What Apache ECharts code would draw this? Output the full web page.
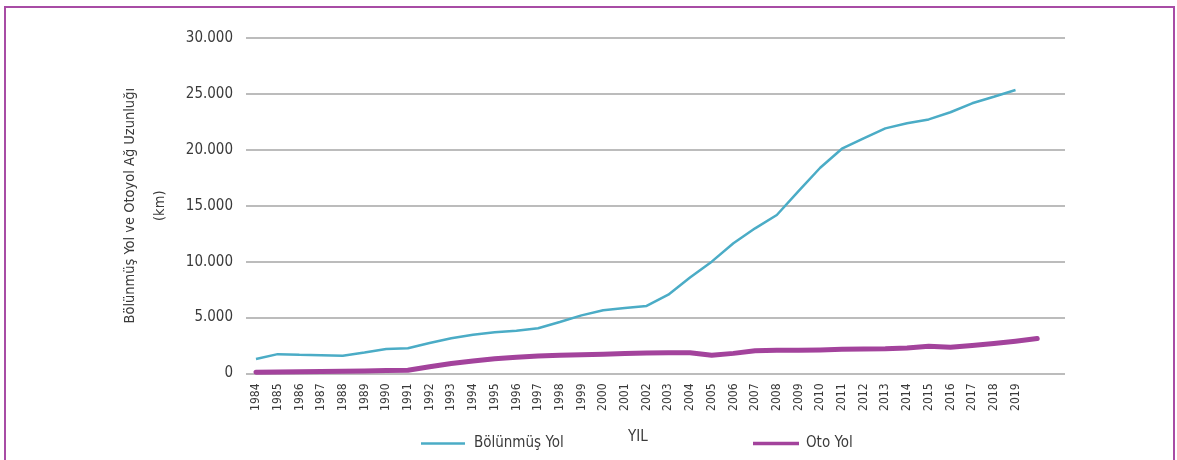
<!DOCTYPE html>
<html>
<head>
<meta charset="utf-8">
<script src="https://cdn.jsdelivr.net/npm/echarts@6/dist/echarts.min.js"></script>
<style>
html,body{margin:0;padding:0;background:#fff;}
#chart{width:1177px;height:460px;}
</style>
</head>
<body>
<div id="chart"></div>
<script>
// ---- data ----
var yearsBolunmus = [1984,1985,1986,1987,1988,1989,1990,1991,1992,1993,1994,1995,1996,1997,1998,1999,2000,2001,2002,2003,2004,2005,2006,2007,2008,2009,2010,2011,2012,2013,2014,2015,2016,2017,2018,2019];
var bolunmusYol = [1300,1730,1670,1630,1590,1880,2190,2250,2720,3160,3470,3680,3820,4040,4600,5200,5660,5850,6040,7050,8580,10000,11640,12980,14170,16300,18400,20100,21030,21920,22370,22720,23360,24160,24750,25350];
var yearsOtoYol = [1984,1985,1986,1987,1988,1989,1990,1991,1992,1993,1994,1995,1996,1997,1998,1999,2000,2001,2002,2003,2004,2005,2006,2007,2008,2009,2010,2011,2012,2013,2014,2015,2016,2017,2018,2019,2020];
var otoYol = [120,140,160,180,200,230,260,290,600,890,1120,1310,1460,1560,1630,1680,1730,1780,1830,1850,1860,1630,1800,2040,2080,2090,2110,2160,2190,2210,2290,2430,2340,2500,2680,2890,3130];
var xTickLabels = [1984,1985,1986,1987,1988,1989,1990,1991,1992,1993,1994,1995,1996,1997,1998,1999,2000,2001,2002,2003,2004,2005,2006,2007,2008,2009,2010,2011,2012,2013,2014,2015,2016,2017,2018,2019];
var seriesNames = ['Bölünmüş Yol','Oto Yol'];
var yAxisTitle = 'Bölünmüş Yol ve Otoyol Ağ Uzunluğı\n(km)';
var xAxisTitle = 'YIL';

var FONT = '"DejaVu Sans Condensed","Liberation Sans Narrow","Roboto",sans-serif';
var TXT = '#3a3a3a';
var C1 = '#4bacc6';
var C2 = '#a3439c';

function pairs(xs, ys){ return xs.map(function(x,i){ return [x, ys[i]]; }); }
function fmtThousands(v){ return String(v).replace(/\B(?=(\d{3})+(?!\d))/g,'.'); }

var chart = echarts.init(document.getElementById('chart'), null, {renderer:'canvas'});
chart.setOption({
  animation:false,
  backgroundColor:'#fff',
  graphic:[
    {type:'rect', silent:true, z:-1, shape:{x:5,y:7,width:1169,height:470}, style:{fill:'none', stroke:'#a84ca5', lineWidth:2}},
    {type:'text', left:628, top:430, style:{text:xAxisTitle, font:'15px '+FONT, fill:TXT}}
  ],
  legend:[
    {data:[{name:seriesNames[0], icon:'rect'}], left:416, top:431, itemWidth:44, itemHeight:2.5, itemGap:10,
     textStyle:{fontFamily:FONT, fontSize:15, color:TXT, padding:[0,0,0,4]}},
    {data:[{name:seriesNames[1], icon:'rect'}], left:748, top:431, itemWidth:46, itemHeight:3.5, itemGap:10,
     textStyle:{fontFamily:FONT, fontSize:15, color:TXT, padding:[0,0,0,2]}}
  ],
  grid:{left:246, right:112, top:38, bottom:86.5, containLabel:false},
  xAxis:{
    type:'value', min:1983.54, max:2021.28,
    axisLine:{show:false}, axisTick:{show:false}, splitLine:{show:false},
    axisLabel:{customValues:xTickLabels, rotate:90, margin:10, fontFamily:FONT, fontSize:12, color:TXT,
      formatter:function(v){ return String(v); }}
  },
  yAxis:{
    type:'value', min:0, max:30000, interval:5000,
    name:yAxisTitle, nameLocation:'middle', nameRotate:90, nameGap:69,
    nameTextStyle:{fontFamily:FONT, fontSize:14.5, color:TXT, lineHeight:30},
    axisLine:{show:false}, axisTick:{show:false},
    splitLine:{lineStyle:{color:'#a6a6a6', width:1.5}},
    axisLabel:{margin:13, fontFamily:FONT, fontSize:15, color:TXT, formatter:function(v){ return fmtThousands(v); }}
  },
  series:[
    {name:seriesNames[0], type:'line', data:pairs(yearsBolunmus, bolunmusYol), symbol:'none',
     lineStyle:{color:C1, width:2.5}, itemStyle:{color:C1}, z:3},
    {name:seriesNames[1], type:'line', data:pairs(yearsOtoYol, otoYol), symbol:'none',
     lineStyle:{color:C2, width:5, cap:'round', join:'round'}, itemStyle:{color:C2}, z:4}
  ]
});
</script>
</body>
</html>
